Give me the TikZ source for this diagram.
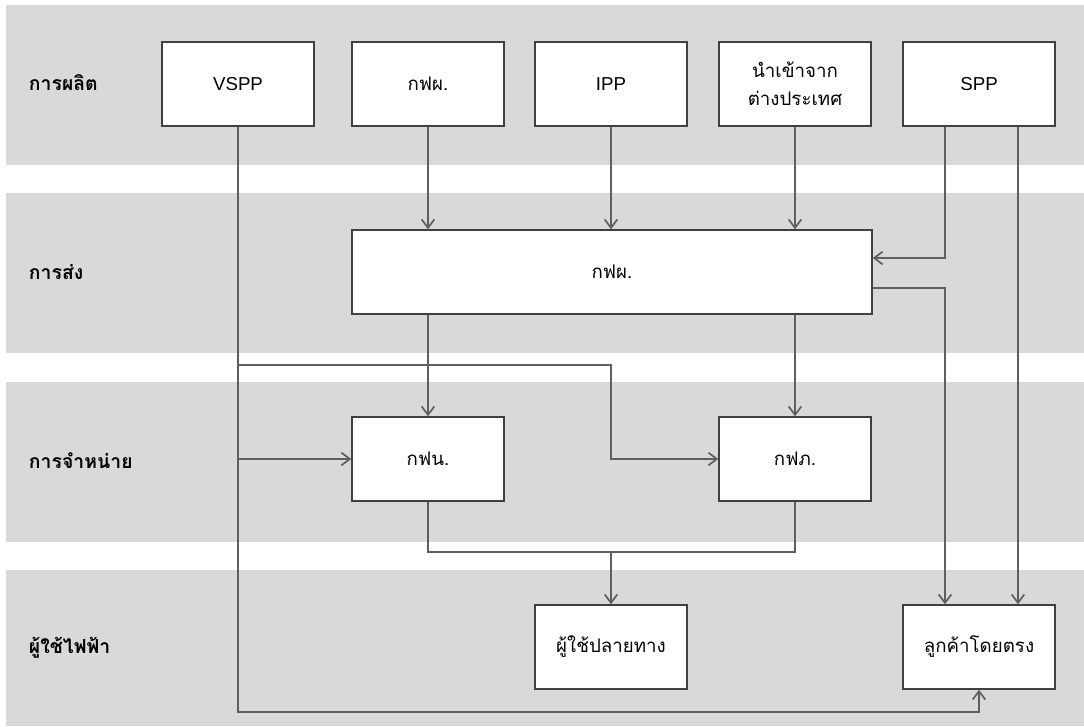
\documentclass[tikz,border=0pt]{standalone}
\usepackage{fontspec}
\setmainfont{Liberation Sans}
\newfontfamily\thaifont[Script=Thai]{Loma}
\usetikzlibrary{arrows.meta, positioning, calc}
\definecolor{bandgray}{RGB}{217,217,217}
\definecolor{linegray}{RGB}{95,95,95}
\definecolor{boxline}{RGB}{64,64,64}

\begin{document}
\begin{tikzpicture}[x=0.025cm, y=-0.025cm]
    % Styles
    \tikzset{unit/.style={draw=boxline, line width=1pt, fill=white, minimum width=3.8cm, minimum height=2.1cm, align=center, font=\fontsize{13.3}{20}\selectfont},
             thai/.style={font=\fontsize{13.3}{20}\selectfont\thaifont},
             tier/.style={anchor=west, font=\fontsize{13.8}{16}\selectfont\thaifont\bfseries},
             flow/.style={draw=linegray, line width=1.2pt, >={Straight Barb[length=6pt, width=9pt]}}}
    \useasboundingbox (0,0) rectangle (1084,726);

    % Bands
    \fill[bandgray] (6,5) rectangle (1084,165);
    \fill[bandgray] (6,193) rectangle (1084,353);
    \fill[bandgray] (6,382) rectangle (1084,542);
    \fill[bandgray] (6,570) rectangle (1084,726);

    % Tier labels
    \node[tier] (lgen) at (24,83) {การผลิต};
    \node[tier] (ltrans) at (24,272) {การส่ง};
    \node[tier] (ldist) at (24,461) {การจำหน่าย};
    \node[tier] (luser) at (24,648) {ผู้ใช้ไฟฟ้า};

    % Generation
    \node[unit] (vspp) at (238,84) {VSPP};
    \node[unit, thai] (egatgen) at (428,84) {กฟผ.};
    \node[unit] (ipp) at (611,84) {IPP};
    \node[unit, thai] (import) at (795,84) {นำเข้าจาก\\ต่างประเทศ};
    \node[unit] (spp) at (979,84) {SPP};

    % Transmission
    \node[unit, thai, minimum width=13cm] (egat) at (612,272) {กฟผ.};

    % Distribution
    \node[unit, thai] (mea) at (428,459) {กฟน.};
    \node[unit, thai] (pea) at (795,459) {กฟภ.};

    % Users
    \node[unit, thai] (enduser) at (611,647) {ผู้ใช้ปลายทาง};
    \node[unit, thai] (direct) at (979,647) {ลูกค้าโดยตรง};

    % Junctions
    \coordinate (tap) at (611,365);
    \coordinate (join) at (611,552);
    \coordinate (bus) at (238,712);

    % Arrows
    \draw[flow, ->] (egatgen.south) -- (egatgen.south |- egat.north);
    \draw[flow, ->] (ipp.south) -- (ipp.south |- egat.north);
    \draw[flow, ->] (import.south) -- (import.south |- egat.north);
    \draw[flow, ->] ($(spp.south)+(-34,0)$) |- ($(egat.east)+(0,-14)$);
    \draw[flow, ->] ($(egat.east)+(0,16)$) -| ($(direct.north)+(-34,0)$);
    \draw[flow, ->] ($(spp.south)+(39,0)$) -- ($(direct.north)+(39,0)$);
    \draw[flow, ->] (mea.north |- egat.south) -- (mea.north);
    \draw[flow, ->] (pea.north |- egat.south) -- (pea.north);
    \draw[flow] (mea.south) |- (join) -| (pea.south);
    \draw[flow, ->] (join) -- (enduser.north);
    \draw[flow, ->] (vspp.south) -- (bus) -| (direct.south);
    \draw[flow, ->] (vspp.south |- mea.west) -- (mea.west);
    \draw[flow, ->] (vspp.south |- tap) -- (tap) |- (pea.west);
\end{tikzpicture}
\end{document}
